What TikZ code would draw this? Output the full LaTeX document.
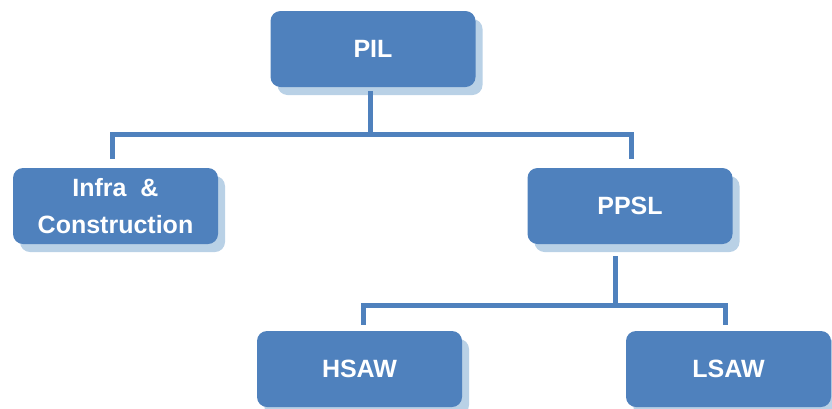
\documentclass[tikz,border=0pt]{standalone}
\usepackage{fontspec}
\setmainfont{Liberation Sans}
\usepackage{xcolor}
\usetikzlibrary{shadows}
\definecolor{boxblue}{RGB}{79,129,189}
\definecolor{shadeblue}{RGB}{185,209,230}

\begin{document}
\begin{tikzpicture}[x = 1pt, y = -1pt,
box/.style = {rounded corners = 10pt, fill = boxblue, text = white, minimum width = 205pt, minimum height = 76pt, align = center, font = \bfseries\fontsize{25}{37}\selectfont, drop shadow = {shadow xshift = 7pt, shadow yshift = -8pt, fill = shadeblue, opacity = 1}},
link/.style = {draw = boxblue, line width = 5pt}
]
\useasboundingbox (0,0) rectangle (832,408);
\node[box] (PIL) at (373,49) {PIL};
\node[box] (Infra) at (115.5,206) {Infra \ \&\\Construction};
\node[box] (PPSL) at (630,206) {PPSL};
\node[box] (HSAW) at (359.5,369) {HSAW};
\node[box] (LSAW) at (728.5,369) {LSAW};
\coordinate (busTop) at (370,134.5);
\coordinate (busLow) at (615,305);
\draw[link] ([xshift = -3pt, yshift = -4pt]PIL.south) -- (busTop);
\draw[link] ([xshift = -3pt, yshift = 9pt]Infra.north) |- (busTop) -| ([xshift = 1.5pt, yshift = 9pt]PPSL.north);
\draw[link] ([xshift = -15pt, yshift = -12pt]PPSL.south) -- (busLow);
\draw[link] ([xshift = 3.5pt, yshift = 6pt]HSAW.north) |- (busLow) -| ([xshift = -3pt, yshift = 6pt]LSAW.north);
\end{tikzpicture}
\end{document}
